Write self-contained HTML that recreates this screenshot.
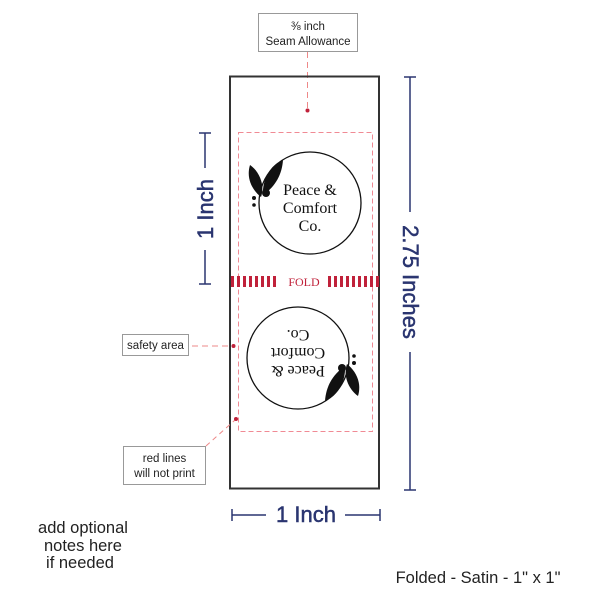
<!DOCTYPE html>
<html><head><meta charset="utf-8"><style>
html,body{margin:0;padding:0;background:#fff;width:600px;height:600px;overflow:hidden}
svg{display:block;font-family:"Liberation Sans",sans-serif}
</style></head><body>
<svg width="600" height="600" viewBox="0 0 600 600" xmlns="http://www.w3.org/2000/svg">
<rect x="258.5" y="13.5" width="99" height="38" fill="#fff" stroke="#999"/>
<text x="308" y="30" font-size="11.5" text-anchor="middle" fill="#222">⅜ inch</text>
<text x="308" y="45" font-size="11.5" text-anchor="middle" fill="#222">Seam Allowance</text>
<line x1="307.5" y1="52" x2="307.5" y2="108" stroke="#e88" stroke-dasharray="6,4"/>
<circle cx="307.5" cy="110.5" r="2" fill="#c0213a"/>
<rect x="230" y="76.5" width="149" height="412" fill="none" stroke="#333" stroke-width="2"/>
<rect x="238.5" y="132.5" width="134" height="299" fill="none" stroke="#f08a94" stroke-dasharray="5,3"/>
<g fill="#c0213a">
<rect x="231" y="276" width="3" height="11"/><rect x="237" y="276" width="3" height="11"/><rect x="243" y="276" width="3" height="11"/><rect x="249" y="276" width="3" height="11"/><rect x="255" y="276" width="3" height="11"/><rect x="261" y="276" width="3" height="11"/><rect x="267" y="276" width="3" height="11"/><rect x="273" y="276" width="3" height="11"/>
<rect x="328" y="276" width="3" height="11"/><rect x="334" y="276" width="3" height="11"/><rect x="340" y="276" width="3" height="11"/><rect x="346" y="276" width="3" height="11"/><rect x="352" y="276" width="3" height="11"/><rect x="358" y="276" width="3" height="11"/><rect x="364" y="276" width="3" height="11"/><rect x="370" y="276" width="3" height="11"/><rect x="376" y="276" width="3" height="11"/>
</g>
<text x="304" y="286" font-size="12" text-anchor="middle" fill="#c0213a" font-family="Liberation Serif,serif">FOLD</text>
<circle cx="310" cy="203" r="51" fill="none" stroke="#111" stroke-width="1.3"/>
<path d="M250,165 C246,178 252,190 261,197 C265,186 260,172 250,165Z" fill="#111"/>
<path d="M283,160 C270,165 262,180 263,195 C276,186 282,174 283,160Z" fill="#111"/>
<circle cx="266" cy="193" r="4" fill="#111"/>
<circle cx="254" cy="198" r="2" fill="#111"/><circle cx="254" cy="205" r="1.8" fill="#111"/>
<g font-family="Liberation Serif,serif" font-size="16" fill="#111" text-anchor="middle">
<text x="310" y="195">Peace &amp;</text>
<text x="310" y="213">Comfort</text>
<text x="310" y="231">Co.</text>
</g>
<g transform="rotate(180 304 283)">
<circle cx="310" cy="208" r="51" fill="none" stroke="#111" stroke-width="1.3"/>
<path d="M250,170 C246,183 252,195 261,202 C265,191 260,177 250,170Z" fill="#111"/>
<path d="M283,165 C270,170 262,185 263,200 C276,191 282,179 283,165Z" fill="#111"/>
<circle cx="266" cy="198" r="4" fill="#111"/>
<circle cx="254" cy="203" r="2" fill="#111"/><circle cx="254" cy="210" r="1.8" fill="#111"/>
<g font-family="Liberation Serif,serif" font-size="16" fill="#111" text-anchor="middle">
<text x="310" y="200">Peace &amp;</text>
<text x="310" y="218">Comfort</text>
<text x="310" y="236">Co.</text>
</g>
</g>
<rect x="122.5" y="334.5" width="66" height="21" fill="#fff" stroke="#999"/>
<text x="155.5" y="349" font-size="11.5" text-anchor="middle" fill="#222">safety area</text>
<line x1="192" y1="346" x2="232" y2="346" stroke="#e88" stroke-dasharray="6,4"/>
<circle cx="233.5" cy="346" r="2" fill="#c0213a"/>
<rect x="123.5" y="446.5" width="82" height="38" fill="#fff" stroke="#999"/>
<text x="164.5" y="462" font-size="11.5" text-anchor="middle" fill="#222">red lines</text>
<text x="164.5" y="477" font-size="11.5" text-anchor="middle" fill="#222">will not print</text>
<line x1="206" y1="446" x2="235" y2="420" stroke="#e88" stroke-dasharray="5,4"/>
<circle cx="236" cy="419" r="2" fill="#c0213a"/>
<g stroke="#2a3570" stroke-width="1.5">
<line x1="199" y1="133" x2="211" y2="133"/><line x1="205" y1="133" x2="205" y2="168"/>
<line x1="205" y1="250" x2="205" y2="284"/><line x1="199" y1="284" x2="211" y2="284"/>
<line x1="404" y1="77" x2="416" y2="77"/><line x1="410" y1="77" x2="410" y2="212"/>
<line x1="410" y1="352" x2="410" y2="490"/><line x1="404" y1="490" x2="416" y2="490"/>
<line x1="232" y1="509" x2="232" y2="521"/><line x1="232" y1="515" x2="266" y2="515"/>
<line x1="345" y1="515" x2="380" y2="515"/><line x1="380" y1="509" x2="380" y2="521"/>
</g>
<g fill="#2a3570" stroke="#2a3570" stroke-width="0.5" font-size="22">
<text transform="translate(213 209) rotate(-90)" text-anchor="middle">1 Inch</text>
<text transform="translate(403 282) rotate(90)" text-anchor="middle">2.75 Inches</text>
<text x="306" y="522" text-anchor="middle">1 Inch</text>
</g>
<g font-size="16.5" fill="#222" text-anchor="middle">
<text x="83" y="533">add optional</text>
<text x="83" y="551">notes here</text>
<text x="80" y="568">if needed</text>
</g>
<text x="478" y="583" font-size="16.5" text-anchor="middle" fill="#222">Folded - Satin - 1" x 1"</text>
</svg>
</body></html>
